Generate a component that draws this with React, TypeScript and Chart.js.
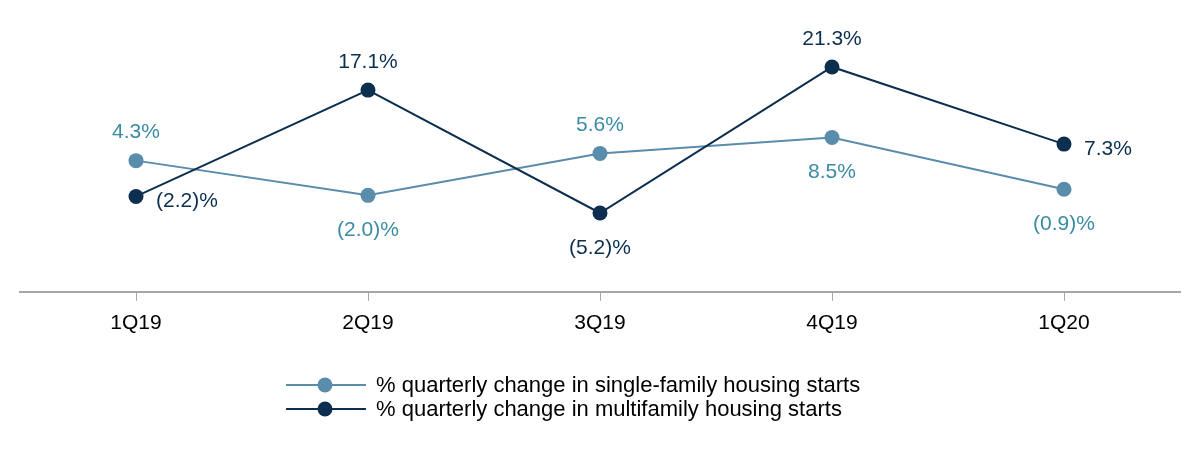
import { useEffect, useRef } from "react";
import { Chart, registerables } from "chart.js";

Chart.register(...registerables);

const categories = ["1Q19", "2Q19", "3Q19", "4Q19", "1Q20"];
const singleFamily = [4.3, -2.0, 5.6, 8.5, -0.9];
const multifamily = [-2.2, 17.1, -5.2, 21.3, 7.3];
const seriesNames = [
  "% quarterly change in single-family housing starts",
  "% quarterly change in multifamily housing starts",
];

// label placement (style, not data)
const singlePlacement = ["above", "below", "above", "below", "below"];
const multiPlacement = ["right", "above", "below", "above", "right"];

const FONT = "'Liberation Sans', Arial, Helvetica, sans-serif";
const SINGLE_COLOR = "#5a8cab";
const SINGLE_TEXT = "#3a8ca2";
const MULTI_COLOR = "#0c2f4f";
const MULTI_TEXT = "#0c2f4f";

const fmt = (v: number) =>
  v < 0 ? `(${Math.abs(v).toFixed(1)})%` : `${v.toFixed(1)}%`;

const labelPlugin = {
  id: "pointLabels",
  afterDatasetsDraw(chart: any) {
    const ctx = chart.ctx;
    ctx.save();
    ctx.font = `21px ${FONT}`;
    chart.data.datasets.forEach((ds: any, di: number) => {
      const meta = chart.getDatasetMeta(di);
      const place = ds._placement as string[];
      meta.data.forEach((pt: any, i: number) => {
        const txt = fmt(ds.data[i]);
        ctx.fillStyle = ds._textColor;
        ctx.textBaseline = "middle";
        const p = place[i];
        if (p === "above") {
          ctx.textAlign = "center";
          ctx.fillText(txt, pt.x, pt.y - 28);
        } else if (p === "below") {
          ctx.textAlign = "center";
          ctx.fillText(txt, pt.x, pt.y + 35);
        } else {
          ctx.textAlign = "left";
          ctx.fillText(txt, pt.x + 20, pt.y + 5);
        }
      });
    });
    ctx.restore();
  },
};

const legendPlugin = {
  id: "customLegend",
  afterDraw(chart: any) {
    const ctx = chart.ctx;
    ctx.save();
    const rows = [
      { color: SINGLE_COLOR, text: seriesNames[0], y: 377 },
      { color: MULTI_COLOR, text: seriesNames[1], y: 401 },
    ];
    rows.forEach((r) => {
      ctx.strokeStyle = r.color;
      ctx.lineWidth = 2;
      ctx.beginPath();
      ctx.moveTo(278, r.y);
      ctx.lineTo(358, r.y);
      ctx.stroke();
      ctx.fillStyle = r.color;
      ctx.beginPath();
      ctx.arc(317, r.y, 7.5, 0, Math.PI * 2);
      ctx.fill();
      ctx.fillStyle = "#000";
      ctx.font = `22px ${FONT}`;
      ctx.textAlign = "left";
      ctx.textBaseline = "middle";
      ctx.fillText(r.text, 368, r.y + 1);
    });
    ctx.restore();
  },
};

export default function App() {
  const ref = useRef<HTMLCanvasElement | null>(null);
  useEffect(() => {
    if (!ref.current) return;
    const chart = new Chart(ref.current, {
      type: "line",
      data: {
        labels: categories,
        datasets: [
          {
            label: seriesNames[0],
            data: singleFamily,
            borderColor: SINGLE_COLOR,
            backgroundColor: SINGLE_COLOR,
            pointBackgroundColor: SINGLE_COLOR,
            pointBorderColor: SINGLE_COLOR,
            borderWidth: 2,
            pointRadius: 7.5,
            pointHoverRadius: 7.5,
            pointBorderWidth: 0,
            tension: 0,
            order: 1,
            _placement: singlePlacement,
            _textColor: SINGLE_TEXT,
          } as any,
          {
            label: seriesNames[1],
            data: multifamily,
            borderColor: MULTI_COLOR,
            backgroundColor: MULTI_COLOR,
            pointBackgroundColor: MULTI_COLOR,
            pointBorderColor: MULTI_COLOR,
            borderWidth: 2,
            pointRadius: 7.5,
            pointHoverRadius: 7.5,
            pointBorderWidth: 0,
            tension: 0,
            order: 0,
            _placement: multiPlacement,
            _textColor: MULTI_TEXT,
          } as any,
        ],
      },
      options: {
        responsive: false,
        animation: false,
        events: [],
        layout: { padding: { left: 12, right: 12, top: 11, bottom: 98 } },
        plugins: {
          legend: { display: false },
          tooltip: { enabled: false },
        },
        scales: {
          x: {
            offset: true,
            grid: {
              display: true,
              drawOnChartArea: false,
              drawTicks: true,
              tickLength: 9,
              color: "#a6a6a6",
              lineWidth: 1,
              offset: false,
            },
            border: { display: true, color: "#a6a6a6", width: 2 },
            ticks: {
              color: "#000",
              padding: 10,
              font: { family: FONT, size: 21 },
            },
          },
          y: {
            display: false,
            min: -19.5,
            max: 30,
          },
        },
      },
      plugins: [labelPlugin, legendPlugin],
    });
    return () => chart.destroy();
  }, []);
  return <canvas ref={ref} width={1184} height={436} />;
}
